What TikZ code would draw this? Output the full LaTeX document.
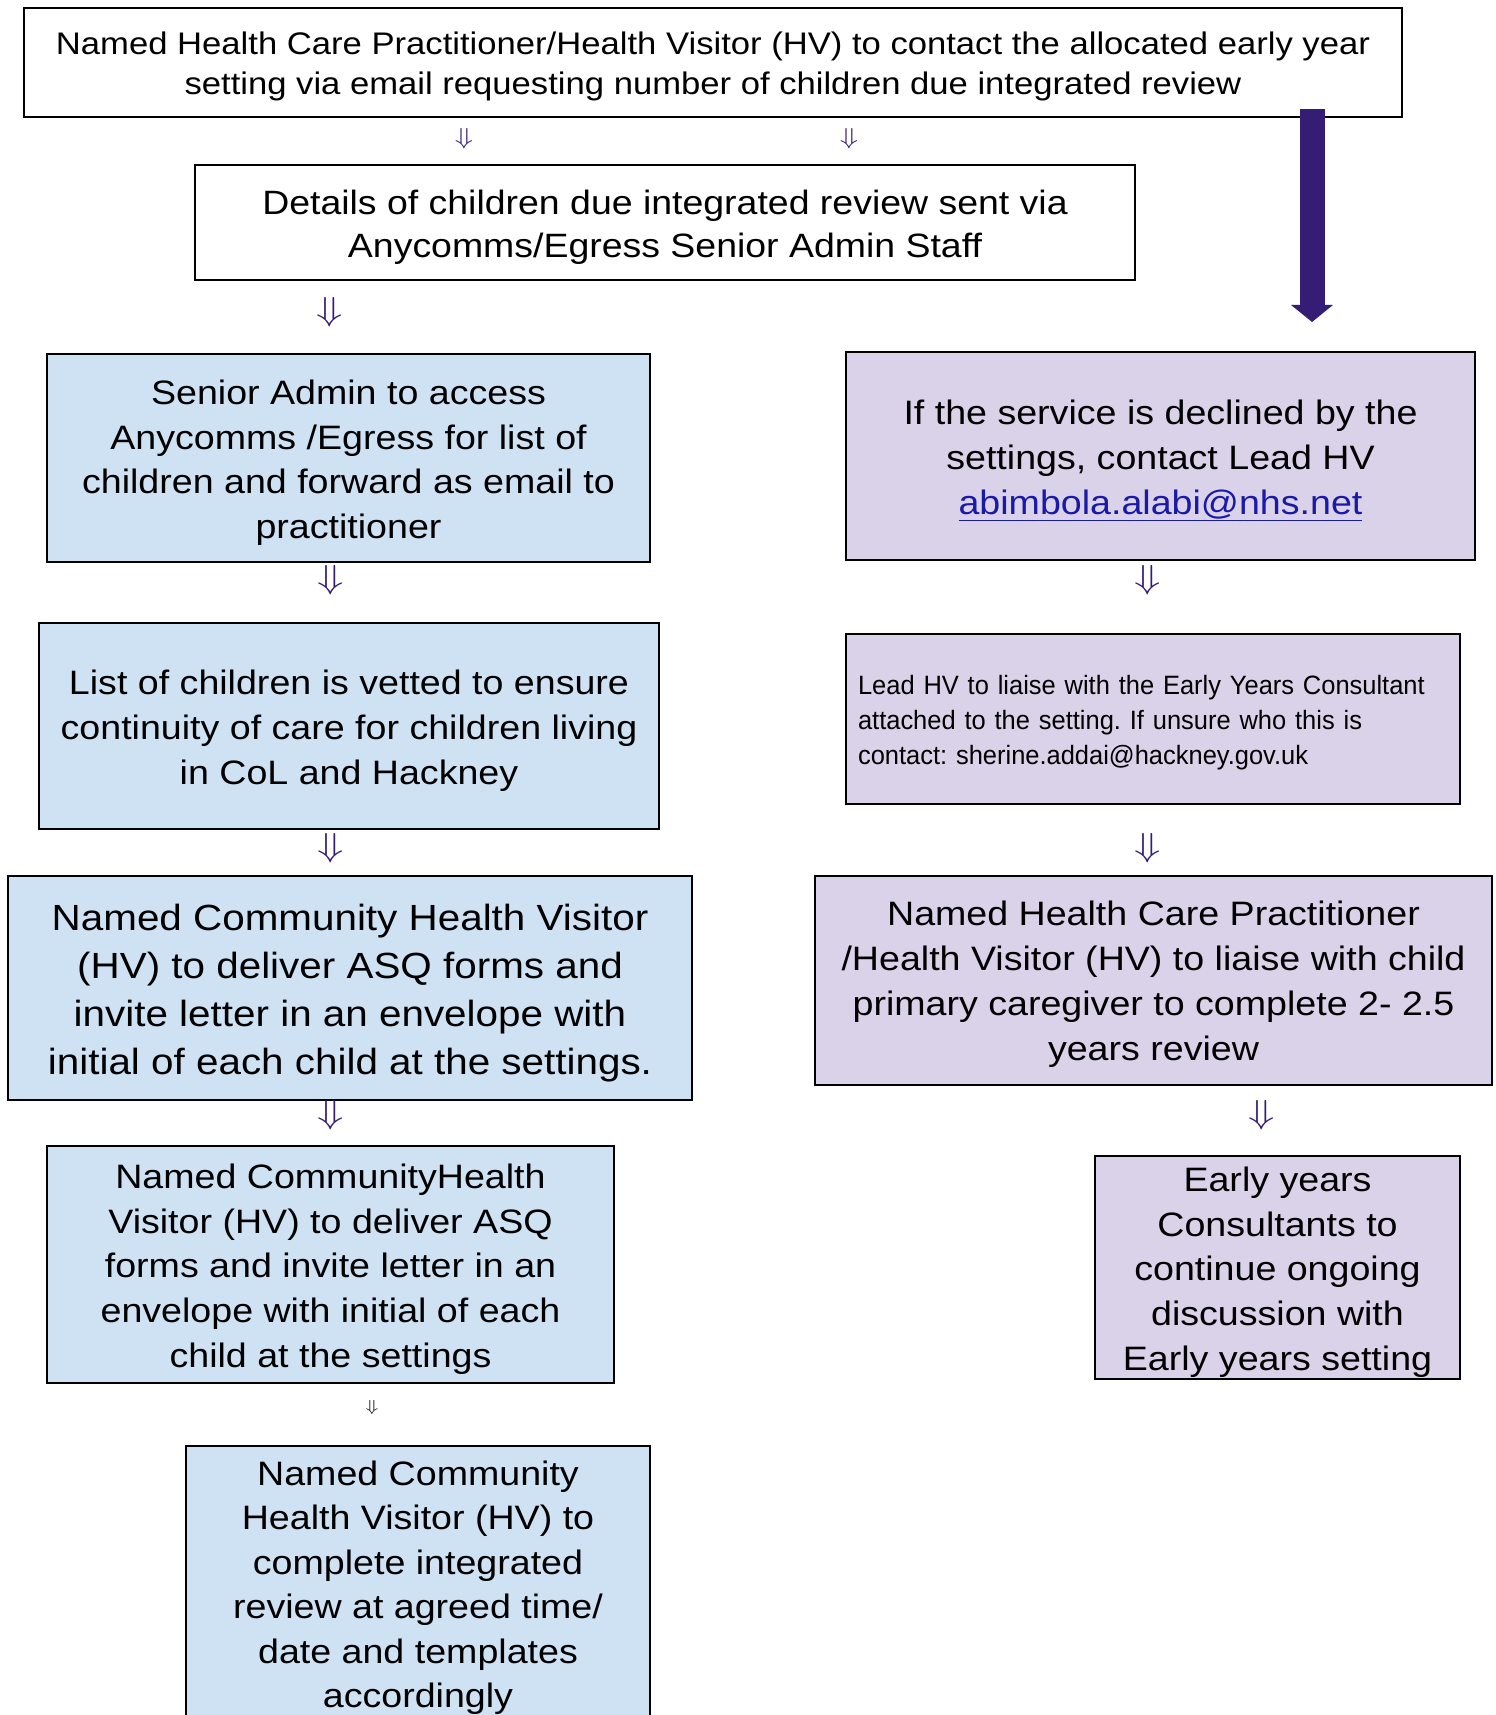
\documentclass[tikz,border=0pt]{standalone}
\usepackage{fontspec}
\setmainfont{Liberation Sans}[FakeStretch=1.11]
\newfontfamily\narrowfont[FakeStretch=0.96]{Liberation Sans}
\usepackage{graphicx}
\usetikzlibrary{arrows.meta,positioning}
\definecolor{boxblue}{HTML}{CFE2F3}
\definecolor{boxpurple}{HTML}{D9D2E9}
\definecolor{arrowpurple}{HTML}{351C75}
\definecolor{linkblue}{HTML}{1A1AA6}
\tikzset{
  stepbox/.style={draw=black,line width=1.5pt,inner sep=0pt,align=center},
  bluebox/.style={stepbox,fill=boxblue},
  purplebox/.style={stepbox,fill=boxpurple},
  darr/.style={inner sep=0pt,text=arrowpurple},
  bigarrow/.style={draw=arrowpurple,line width=18.75pt,-{Triangle[width=30.75pt,length=12.75pt]}},
}
\newcommand{\txt}[2]{\fontsize{#1}{#2}\selectfont}
\newcommand{\tstrut}[1][8pt]{\rule{0pt}{\dimexpr\fontcharht\font`\d+#1\relax}}
\newcommand{\dnarrow}[1]{\scalebox{1.3}[1]{\fontsize{#1}{#1}\selectfont$\Downarrow$}}
\frenchspacing

\begin{document}
\begin{tikzpicture}[x=0.75pt,y=-0.75pt]
  \useasboundingbox (0,0) rectangle (1495,1715);
  \clip (0,0) rectangle (1495,1715);
  % top row
  \node [stepbox,line width=2pt,minimum width=1033.5pt,minimum height=81.75pt,font=\txt{23.4}{30}] (request) at (713,62.5)
    {\tstrut[6.6pt]Named Health Care Practitioner/Health Visitor (HV) to contact the allocated early year\\setting via email requesting number of children due integrated review};
  \node [darr] (d1) at (464,139) {\dnarrow{18.6}};
  \node [darr] (d2) at (849,139) {\dnarrow{18.6}};
  \node [stepbox,minimum width=705pt,minimum height=86.25pt,font=\txt{25.3}{32.8}] (details) at (665,222.5)
    {\tstrut Details of children due integrated review sent via\\Anycomms/Egress Senior Admin Staff};
  % left column
  \node [darr] (d3) at (330,312) {\dnarrow{25}};
  \node [bluebox,minimum width=452pt,minimum height=156pt,font=\txt{25.4}{33.6}] (admin) at (348.5,458)
    {\tstrut Senior Admin to access\\Anycomms /Egress for list of\\children and forward as email to\\practitioner};
  \node [darr] (d4) at (331,580) {\dnarrow{25}};
  \node [bluebox,minimum width=465pt,minimum height=154.5pt,font=\txt{25.4}{33.6}] (vetted) at (349,726)
    {\tstrut List of children is vetted to ensure\\continuity of care for children living\\in CoL and Hackney};
  \node [darr] (d5) at (331,848) {\dnarrow{25}};
  \node [bluebox,minimum width=513pt,minimum height=168pt,font=\txt{27.3}{36}] (deliver) at (350,988)
    {\tstrut Named Community Health Visitor\\(HV) to deliver ASQ forms and\\invite letter in an envelope with\\initial of each child at the settings.};
  \node [darr] (d6) at (331,1115) {\dnarrow{25}};
  \node [bluebox,minimum width=425pt,minimum height=178pt,font=\txt{25.4}{33.6}] (deliverb) at (330.5,1264.5)
    {\tstrut Named CommunityHealth\\Visitor (HV) to deliver ASQ\\forms and invite letter in an\\envelope with initial of each\\child at the settings};
  \node [inner sep=0pt] (d7) at (372,1407) {\dnarrow{12.7}};
  \node [bluebox,minimum width=348pt,minimum height=207pt,font=\txt{25.4}{33.3}] (complete) at (418,1584)
    {\tstrut[6.6pt]Named Community\\Health Visitor (HV) to\\complete integrated\\review at agreed time/\\date and templates\\accordingly};
  % right column
  \coordinate (bigtop) at (1312,109);
  \coordinate (bigtip) at (1312,322);
  \draw [bigarrow] (bigtop) -- (bigtip);
  \node [purplebox,minimum width=472pt,minimum height=156pt,font=\txt{25.4}{33.6}] (declined) at (1160.5,456)
    {\tstrut If the service is declined by the\\settings, contact Lead HV\\\textcolor{linkblue}{\underline{abimbola.alabi@nhs.net}}};
  \node [darr] (d8) at (1148,580) {\dnarrow{25}};
  \node [purplebox,minimum width=460.5pt,minimum height=127.5pt,text width=442.5pt,align=left,font=\narrowfont\txt{19.9}{26.25}] (liaise) at (1153,719)
    {\tstrut[6.6pt]Lead HV to liaise with the Early Years Consultant\\attached to the setting. If unsure who this is\\contact: sherine.addai@hackney.gov.uk};
  \node [darr] (d9) at (1148,848) {\dnarrow{25}};
  \node [purplebox,minimum width=508pt,minimum height=157pt,font=\txt{25.4}{33.6}] (caregiver) at (1153.5,980.5)
    {\tstrut[6.6pt]Named Health Care Practitioner\\/Health Visitor (HV) to liaise with child\\primary caregiver to complete 2- 2.5\\years review};
  \node [darr] (d10) at (1262,1115) {\dnarrow{25}};
  \node [purplebox,minimum width=274pt,minimum height=167pt,font=\txt{25.4}{33.6}] (consult) at (1277.5,1267.5)
    {\tstrut Early years\\Consultants to\\continue ongoing\\discussion with\\Early years setting};
\end{tikzpicture}
\end{document}
